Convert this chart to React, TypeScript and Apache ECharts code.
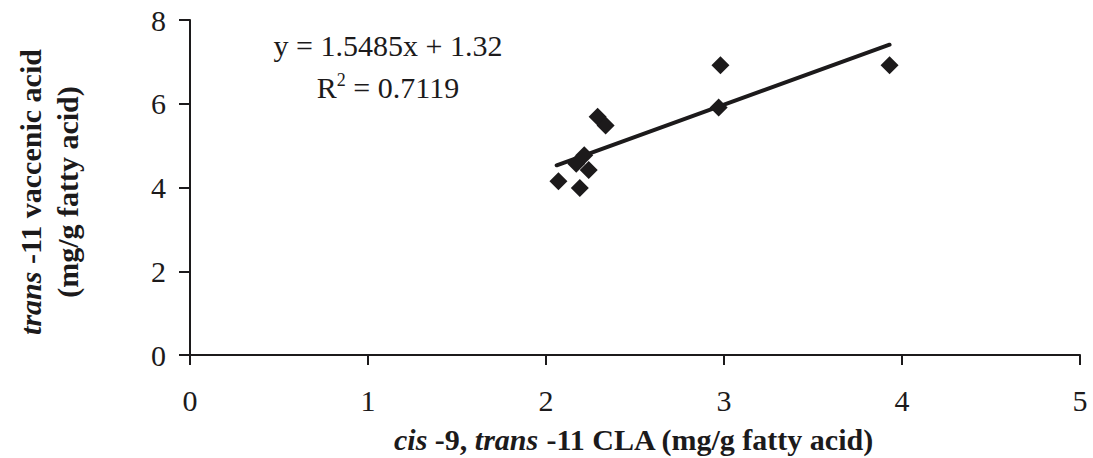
import React, { useEffect, useRef } from "react";
import * as echarts from "echarts";

const claX = [2.07, 2.17, 2.19, 2.215, 2.24, 2.29, 2.335, 2.97, 2.98, 3.93];
const vaccenicY = [4.15, 4.57, 3.99, 4.77, 4.42, 5.69, 5.48, 5.91, 6.92, 6.92];
const trendX = [2.06, 3.93];
const trendY = [4.53, 7.41];
const xTicks = [0, 1, 2, 3, 4, 5];
const yTicks = [0, 2, 4, 6, 8];

const FONT = "Liberation Serif";
const INK = "#1c1a1b";

export default function App() {
  const ref = useRef<HTMLDivElement>(null);
  useEffect(() => {
    if (!ref.current) return;
    const chart = echarts.init(ref.current, null, { renderer: "svg" });
    chart.setOption({
      animation: false,
      backgroundColor: "#ffffff",
      grid: { left: 190, right: 13, top: 20, bottom: 103, containLabel: false },
      xAxis: {
        type: "value",
        min: xTicks[0],
        max: xTicks[xTicks.length - 1],
        interval: 1,
        splitLine: { show: false },
        axisLine: { show: true, onZero: false, lineStyle: { color: INK, width: 2 } },
        axisTick: { show: true, inside: false, length: 10, lineStyle: { color: INK, width: 2 } },
        axisLabel: { color: INK, fontFamily: FONT, fontSize: 30, margin: 30 },
      },
      yAxis: {
        type: "value",
        min: yTicks[0],
        max: yTicks[yTicks.length - 1],
        interval: 2,
        splitLine: { show: false },
        axisLine: { show: true, onZero: false, lineStyle: { color: INK, width: 2 } },
        axisTick: { show: true, inside: false, length: 11, lineStyle: { color: INK, width: 2 } },
        axisLabel: { color: INK, fontFamily: FONT, fontSize: 30, margin: 24 },
      },
      series: [
        {
          type: "line",
          data: trendX.map((x, i) => [x, trendY[i]]),
          showSymbol: false,
          symbol: "none",
          lineStyle: { color: INK, width: 4, cap: "round" },
          z: 3,
        },
        {
          type: "scatter",
          data: claX.map((x, i) => [x, vaccenicY[i]]),
          symbol: "diamond",
          symbolSize: [18, 18],
          itemStyle: { color: INK, opacity: 1 },
          z: 4,
        },
      ],
      graphic: [
        {
          type: "text",
          x: 388,
          y: 45,
          style: {
            text: "y = 1.5485x + 1.32",
            fontFamily: FONT,
            fontSize: 30,
            fill: INK,
            align: "center",
            verticalAlign: "middle",
          },
        },
        {
          type: "text",
          x: 388,
          y: 87,
          style: {
            text: "{n|R}{s|2}{n| = 0.7119}",
            fontFamily: FONT,
            fontSize: 30,
            fill: INK,
            align: "center",
            verticalAlign: "middle",
            rich: {
              n: { fontFamily: FONT, fontSize: 30, fill: INK },
              s: { fontFamily: FONT, fontSize: 18, fill: INK, verticalAlign: "top", padding: [0, 0, 14, 0] },
            },
          },
        },
        {
          type: "text",
          x: 634,
          y: 439,
          style: {
            text: "{i|cis}{b| -9, }{i|trans}{b| -11 CLA (mg/g fatty acid)}",
            fill: INK,
            align: "center",
            verticalAlign: "middle",
            rich: {
              i: { fontFamily: FONT, fontSize: 30, fontWeight: "bold", fontStyle: "italic", fill: INK },
              b: { fontFamily: FONT, fontSize: 30, fontWeight: "bold", fill: INK },
            },
          },
        },
        {
          type: "text",
          x: 30,
          y: 192,
          rotation: Math.PI / 2,
          style: {
            text: "{i|trans}{b| -11 vaccenic acid}",
            fill: INK,
            align: "center",
            verticalAlign: "middle",
            rich: {
              i: { fontFamily: FONT, fontSize: 30, fontWeight: "bold", fontStyle: "italic", fill: INK },
              b: { fontFamily: FONT, fontSize: 30, fontWeight: "bold", fill: INK },
            },
          },
        },
        {
          type: "text",
          x: 67,
          y: 192,
          rotation: Math.PI / 2,
          style: {
            text: "(mg/g fatty acid)",
            fontFamily: FONT,
            fontSize: 30,
            fontWeight: "bold",
            fill: INK,
            align: "center",
            verticalAlign: "middle",
          },
        },
      ],
    });
    return () => chart.dispose();
  }, []);
  return <div ref={ref} style={{ width: 1093, height: 458, position: "absolute", left: 0, top: 0 }} />;
}
